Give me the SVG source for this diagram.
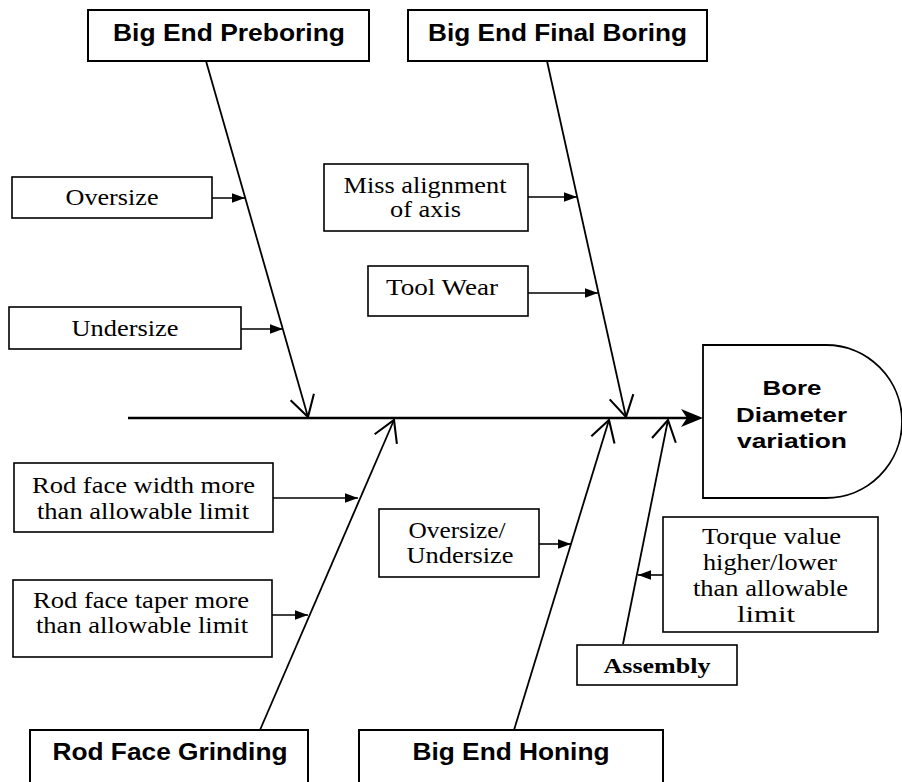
<svg xmlns="http://www.w3.org/2000/svg" width="902" height="782" viewBox="0 0 902 782">
<defs>
<style>
.box{fill:#fff;stroke:#000;stroke-width:1.6}
.cat{fill:#fff;stroke:#000;stroke-width:2}
.t{font-family:"Liberation Serif","Times New Roman",serif;font-size:24px;text-anchor:middle;fill:#000}
.tb{font-family:"Liberation Serif","Times New Roman",serif;font-size:22px;font-weight:bold;text-anchor:middle;fill:#000}
.h{font-family:"Liberation Sans",Arial,sans-serif;font-size:23px;font-weight:bold;text-anchor:middle;fill:#000}
.hd{font-family:"Liberation Sans",Arial,sans-serif;font-size:21px;font-weight:bold;text-anchor:middle;fill:#000}
.bone{stroke:#000;stroke-width:1.8;fill:none;marker-end:url(#open)}
.cause{stroke:#000;stroke-width:1.6;fill:none;marker-end:url(#fill)}
.spine{stroke:#000;stroke-width:2.6;fill:none}
</style>
<marker id="open" markerUnits="userSpaceOnUse" markerWidth="30" markerHeight="30" viewBox="-22 -13 26 26" refX="0" refY="0" orient="auto">
<path d="M-18,-10.5 L0,0 L-18,10.5" fill="none" stroke="#000" stroke-width="1.8"/>
</marker>
<marker id="fill" markerUnits="userSpaceOnUse" markerWidth="16" markerHeight="12" viewBox="-14 -6 15 12" refX="0" refY="0" orient="auto">
<path d="M0,0 L-13,-4.7 L-13,4.7 Z" fill="#000"/>
</marker>
</defs>

<g id="connectors">
<line class="spine" x1="128" y1="418" x2="690" y2="418"/>
<path d="M703,418 L681,409 L687,418 L681,427 Z" fill="#000"/>
<line class="bone" x1="206" y1="61" x2="308" y2="417"/>
<line class="bone" x1="547" y1="61" x2="626" y2="417"/>
<line class="bone" x1="260" y1="730" x2="394" y2="420"/>
<line class="bone" x1="514" y1="730" x2="609" y2="420"/>
<line class="bone" x1="623" y1="644" x2="668" y2="420"/>
<line class="cause" x1="212" y1="198" x2="245" y2="198"/>
<line class="cause" x1="241" y1="329" x2="283" y2="329"/>
<line class="cause" x1="528" y1="197" x2="577" y2="197"/>
<line class="cause" x1="528" y1="293" x2="598" y2="293"/>
<line class="cause" x1="273" y1="498" x2="358" y2="498"/>
<line class="cause" x1="272" y1="615" x2="308" y2="615"/>
<line class="cause" x1="539" y1="544" x2="571" y2="544"/>
<line class="cause" x1="663" y1="575" x2="638" y2="575"/>
</g>

<g id="preboring">
<rect class="cat" x="88" y="10" width="281" height="51"/>
<text class="h" x="229" y="41" textLength="232" lengthAdjust="spacingAndGlyphs">Big End Preboring</text>
</g>
<g id="finalboring">
<rect class="cat" x="408" y="10" width="299" height="51"/>
<text class="h" x="557.5" y="41" textLength="259" lengthAdjust="spacingAndGlyphs">Big End Final Boring</text>
</g>
<g id="grinding">
<rect class="cat" x="30" y="730" width="278" height="60"/>
<text class="h" x="170" y="760" textLength="235" lengthAdjust="spacingAndGlyphs">Rod Face Grinding</text>
</g>
<g id="honing">
<rect class="cat" x="359" y="730" width="304" height="60"/>
<text class="h" x="511" y="760" textLength="197" lengthAdjust="spacingAndGlyphs">Big End Honing</text>
</g>

<g id="head">
<path d="M703,345 H826 A76,76.5 0 0 1 826,498 H703 Z" fill="#fff" stroke="#000" stroke-width="1.8"/>
<text class="hd" x="792" y="395" textLength="59" lengthAdjust="spacingAndGlyphs">Bore</text>
<text class="hd" x="791.5" y="422" textLength="111" lengthAdjust="spacingAndGlyphs">Diameter</text>
<text class="hd" x="792" y="448" textLength="110" lengthAdjust="spacingAndGlyphs">variation</text>
</g>

<g id="oversize">
<rect class="box" x="12" y="177" width="200" height="41"/>
<text class="t" x="112" y="205" textLength="93" lengthAdjust="spacingAndGlyphs">Oversize</text>
</g>
<g id="undersize">
<rect class="box" x="9" y="307" width="232" height="42"/>
<text class="t" x="125" y="336" textLength="107" lengthAdjust="spacingAndGlyphs">Undersize</text>
</g>
<g id="missalignment">
<rect class="box" x="324" y="164" width="204" height="67"/>
<text class="t" x="425" y="193" textLength="163" lengthAdjust="spacingAndGlyphs">Miss alignment</text>
<text class="t" x="425.5" y="217" textLength="71" lengthAdjust="spacingAndGlyphs">of axis</text>
</g>
<g id="toolwear">
<rect class="box" x="368" y="266" width="160" height="50"/>
<text class="t" x="442" y="295" textLength="112" lengthAdjust="spacingAndGlyphs">Tool Wear</text>
</g>
<g id="facewidth">
<rect class="box" x="14" y="463" width="259" height="69"/>
<text class="t" x="143.5" y="493" textLength="223" lengthAdjust="spacingAndGlyphs">Rod face width more</text>
<text class="t" x="143" y="519" textLength="212" lengthAdjust="spacingAndGlyphs">than allowable limit</text>
</g>
<g id="facetaper">
<rect class="box" x="13" y="580" width="259" height="77"/>
<text class="t" x="141" y="608" textLength="216" lengthAdjust="spacingAndGlyphs">Rod face taper more</text>
<text class="t" x="142" y="633" textLength="212" lengthAdjust="spacingAndGlyphs">than allowable limit</text>
</g>
<g id="honingsize">
<rect class="box" x="379" y="509" width="160" height="68"/>
<text class="t" x="457" y="538" textLength="97" lengthAdjust="spacingAndGlyphs">Oversize/</text>
<text class="t" x="460" y="563" textLength="107" lengthAdjust="spacingAndGlyphs">Undersize</text>
</g>
<g id="torque">
<rect class="box" x="663" y="517" width="215" height="115"/>
<text class="t" x="771.5" y="544" textLength="139" lengthAdjust="spacingAndGlyphs">Torque value</text>
<text class="t" x="770" y="570" textLength="134" lengthAdjust="spacingAndGlyphs">higher/lower</text>
<text class="t" x="770.5" y="596" textLength="155" lengthAdjust="spacingAndGlyphs">than allowable</text>
<text class="t" x="766" y="622" textLength="58" lengthAdjust="spacingAndGlyphs">limit</text>
</g>
<g id="assembly">
<rect class="box" x="577" y="645" width="160" height="40"/>
<text class="tb" x="657" y="673" textLength="107" lengthAdjust="spacingAndGlyphs">Assembly</text>
</g>
</svg>
